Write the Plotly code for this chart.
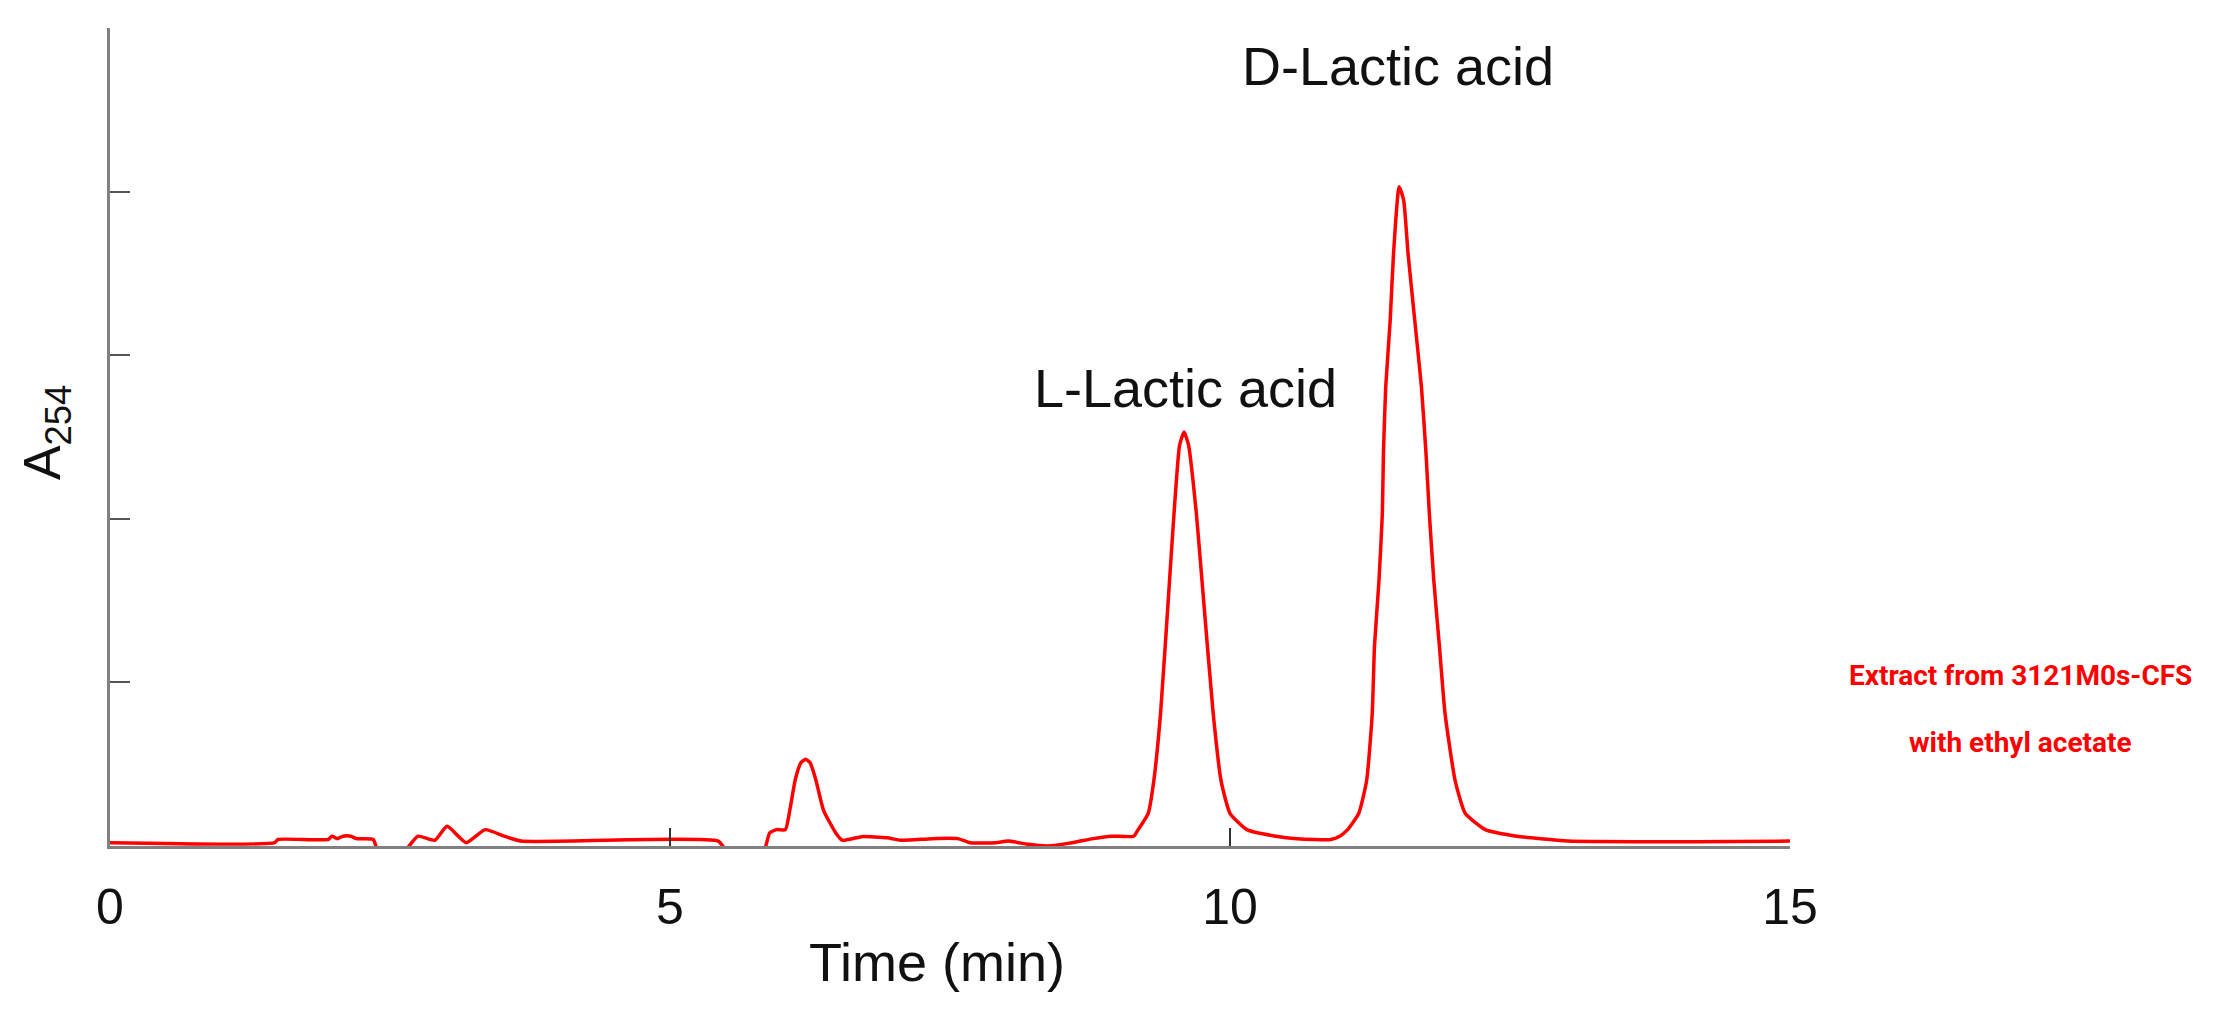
import plotly.graph_objects as go

# Chromatogram trace (time in min, A254 in tick units)
time_min = [
    0.00, 1.47, 1.50, 1.95, 1.98, 2.03, 2.08, 2.15, 2.20, 2.35, 2.40, 2.62,
    2.67, 2.75, 2.90, 3.01, 3.18, 3.35, 3.52, 3.67, 5.43, 5.52, 5.83, 5.89,
    5.95, 6.03, 6.07, 6.12, 6.17, 6.21, 6.25, 6.30, 6.37, 6.48, 6.54, 6.71,
    6.94, 7.06, 7.34, 7.57, 7.68, 7.91, 8.02, 8.20, 8.37, 8.59, 8.78, 8.94,
    9.14, 9.18, 9.27, 9.32, 9.38, 9.46, 9.50, 9.55, 9.59, 9.63, 9.70, 9.75,
    9.85, 9.92, 10.00, 10.15, 10.41, 10.60, 10.90, 10.98, 11.05, 11.15, 11.22,
    11.27, 11.29, 11.33, 11.36, 11.37, 11.39, 11.43, 11.46, 11.51, 11.55,
    11.59, 11.65, 11.71, 11.75, 11.78, 11.82, 11.87, 11.92, 12.01, 12.10,
    12.28, 12.56, 13.02, 15.00,
]
a254 = [
    0.02, 0.02, 0.04, 0.04, 0.06, 0.045, 0.06, 0.06, 0.045, 0.04, -0.04, -0.04,
    0.00, 0.06, 0.035, 0.12, 0.02, 0.10, 0.06, 0.03, 0.03, -0.04, -0.04, 0.08,
    0.10, 0.10, 0.22, 0.41, 0.51, 0.53, 0.51, 0.41, 0.22, 0.08, 0.035, 0.057,
    0.05, 0.035, 0.045, 0.045, 0.02, 0.02, 0.03, 0.01, 0.00, 0.02, 0.045, 0.06,
    0.06, 0.10, 0.20, 0.40, 0.81, 1.62, 2.03, 2.45, 2.53, 2.45, 2.03, 1.62,
    0.81, 0.40, 0.20, 0.10, 0.06, 0.045, 0.04, 0.06, 0.10, 0.20, 0.40,
    0.81, 1.22, 1.62, 2.03, 2.40, 2.80, 3.21, 3.62, 4.03, 3.95,
    3.62, 3.21, 2.80, 2.40, 2.03, 1.62, 1.22, 0.81, 0.40, 0.20,
    0.10, 0.06, 0.03, 0.03,
]

x_ticks = [0, 5, 10, 15]
x_tick_labels = ["0", "5", "10", "15"]
y_ticks = [1, 2, 3, 4, 5]

peak_labels = ["L-Lactic acid", "D-Lactic acid"]
peak_label_x = [9.60, 11.50]
peak_label_y = [2.80, 4.77]

sample_lines = ["Extract from 3121M0s-CFS", "with ethyl acetate"]

TEXT_FONT = "Liberation Sans, Arial, sans-serif"
RED_FONT = "Roboto, Liberation Sans, Arial, sans-serif"

fig = go.Figure()

fig.add_trace(
    go.Scatter(
        x=time_min,
        y=a254,
        mode="lines",
        line=dict(color="#FF0000", width=3.5, shape="spline", smoothing=0.5),
        showlegend=False,
    )
)

# Peak names
for text, px, py in zip(peak_labels, peak_label_x, peak_label_y):
    fig.add_annotation(
        x=px, y=py, xref="x", yref="y", text=text, showarrow=False,
        font=dict(family=TEXT_FONT, size=54, color="#111111"),
        xanchor="center", yanchor="middle",
    )

# Red sample description, two lines
for text, py in zip(sample_lines, [0.209, 0.127]):
    fig.add_annotation(
        x=1.137, y=py, xref="paper", yref="paper", text=text, showarrow=False,
        font=dict(family=RED_FONT, size=28, color="#FF0000", weight="bold"),
        xanchor="center", yanchor="middle",
    )

# Axis titles
fig.add_annotation(
    x=7.38, y=-0.142, xref="x", yref="paper", text="Time (min)", showarrow=False,
    font=dict(family=TEXT_FONT, size=54, color="#111111"),
    xanchor="center", yanchor="middle",
)
fig.add_annotation(
    x=-0.038, y=0.505, xref="paper", yref="paper", text="A<sub>254</sub>",
    showarrow=False, textangle=-90,
    font=dict(family=TEXT_FONT, size=52, color="#111111"),
    xanchor="center", yanchor="middle",
)

# page body has an 8px margin, so the figure is 8px smaller than the window
fig.update_layout(
    width=2209,
    height=1004,
    margin=dict(l=102, r=427, t=20, b=166, autoexpand=False),
    plot_bgcolor="#FFFFFF",
    paper_bgcolor="#FFFFFF",
    xaxis=dict(
        range=[0, 15],
        tickvals=x_ticks,
        ticktext=x_tick_labels,
        ticks="inside",
        ticklen=18,
        tickwidth=1.5,
        tickcolor="#333333",
        ticklabelstandoff=15,
        tickfont=dict(family=TEXT_FONT, size=50, color="#111111"),
        showline=True,
        linecolor="#808080",
        linewidth=3,
        showgrid=False,
        zeroline=False,
        automargin=False,
    ),
    yaxis=dict(
        range=[0, 5],
        tickvals=y_ticks,
        showticklabels=False,
        ticks="inside",
        ticklen=20,
        tickwidth=2,
        tickcolor="#555555",
        showline=True,
        linecolor="#808080",
        linewidth=3,
        showgrid=False,
        zeroline=False,
        automargin=False,
    ),
)

fig.write_html("out.html")
